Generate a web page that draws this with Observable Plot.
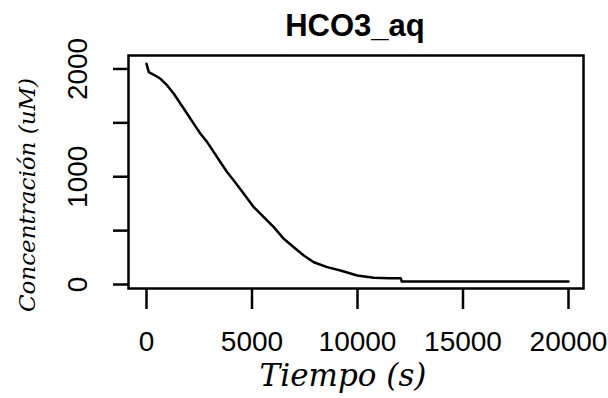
<!DOCTYPE html>
<html><head><meta charset="utf-8">
<script src="https://cdn.jsdelivr.net/npm/d3@7"></script>
<script src="https://cdn.jsdelivr.net/npm/@observablehq/plot@0.6"></script>
<style>body{margin:0;background:#fff}</style>
</head><body><div id="chart"></div>
<script>
const title = "HCO3_aq";
const xLabel = "Tiempo (s)";
const yLabel = "Concentración (uM)";
const tiempo = [0, 109, 346, 664, 981, 1294, 1611, 1929, 2242, 2559, 2877, 3190, 3507, 3825, 4137, 4611, 5085, 5559, 6033, 6507, 6981, 7455, 7929, 8564, 9194, 9986, 10773, 11500, 12050, 12100, 20000];
const conc   = [2048, 1970, 1946, 1909, 1847, 1770, 1677, 1584, 1491, 1399, 1321, 1228, 1135, 1042, 965, 842, 718, 625, 532, 424, 346, 269, 207, 161, 130, 84, 62, 58, 58, 28, 28];
const xTicks = [0, 5000, 10000, 15000, 20000];
const yTicks = [0, 500, 1000, 1500, 2000];
const yTickLabels = [0, 1000, 2000];
const data = tiempo.map((t, i) => ({t, c: conc[i]}));

const chart = Plot.plot({
  width: 608, height: 398,
  marginLeft: 128, marginRight: 25, marginTop: 55, marginBottom: 110,
  x: {domain: [-853, 20711]},
  y: {domain: [-37, 2125]},
  style: {fontFamily: "'Liberation Sans', Arial, sans-serif", background: "white", color: "black"},
  marks: [
    Plot.frame({stroke: "black", strokeWidth: 2.5}),
    Plot.axisX({ticks: xTicks, tickSize: 21, tickPadding: 22, fontSize: 28, strokeWidth: 2.5, label: null, tickFormat: d => String(d)}),
    Plot.axisY({ticks: yTicks, tickSize: 15, tickFormat: () => "", strokeWidth: 2.5, label: null}),
    Plot.text(yTickLabels, {y: d => d, text: d => String(d), frameAnchor: "left", textAnchor: "middle", lineAnchor: "middle", dx: -50, rotate: -90, fontSize: 28}),
    Plot.line(data, {x: "t", y: "c", stroke: "black", strokeWidth: 2.5, curve: "linear"}),
    Plot.text([title], {text: d => d, frameAnchor: "top", dy: -20, dx: -1, lineAnchor: "bottom", fontSize: 31, fontWeight: "bold"}),
    Plot.text([xLabel], {text: d => d, frameAnchor: "bottom", dy: 97, dx: -13, lineAnchor: "bottom", fontSize: 31, fontStyle: "italic", fontFamily: "'DejaVu Serif', serif"}),
    Plot.text([yLabel], {text: d => d, frameAnchor: "left", textAnchor: "middle", lineAnchor: "middle", dx: -101, dy: 23, rotate: -90, fontSize: 23, fontStyle: "italic", fontFamily: "'DejaVu Serif', serif"})
  ]
});
document.getElementById("chart").appendChild(chart);
</script>
</body></html>
